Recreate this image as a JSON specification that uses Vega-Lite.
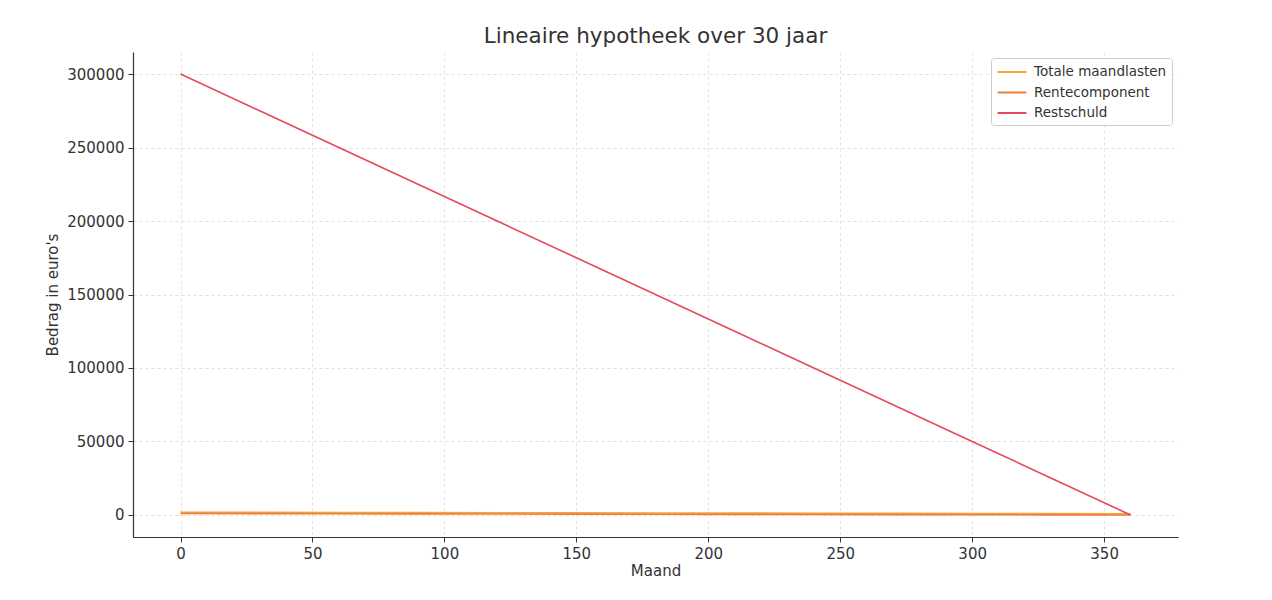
{
  "$schema": "https://vega.github.io/schema/vega-lite/v6.json",
  "autosize": {"type": "none"},
  "padding": {"left": 133, "top": 52, "right": 94, "bottom": 63},
  "width": 1045,
  "height": 485,
  "background": "white",
  "config": {
    "font": "DejaVu Sans",
    "view": {"stroke": null},
    "axis": {
      "labelFont": "DejaVu Sans",
      "titleFont": "DejaVu Sans",
      "labelFontSize": 15,
      "titleFontSize": 15,
      "titleFontWeight": "normal",
      "labelColor": "#333333",
      "titleColor": "#333333",
      "domainColor": "#333333",
      "domainWidth": 1.2,
      "tickColor": "#333333",
      "tickSize": 5,
      "gridColor": "#d9d9d9",
      "gridDash": [3, 3],
      "gridWidth": 0.8
    }
  },
  "title": {
    "text": "Lineaire hypotheek over 30 jaar",
    "fontSize": 21.5,
    "fontWeight": "normal",
    "color": "#333333",
    "font": "DejaVu Sans",
    "offset": 5
  },
  "data": {
    "values": [
      {"maand": 0, "serie": "Totale maandlasten", "bedrag": 1833},
      {"maand": 30, "serie": "Totale maandlasten", "bedrag": 1750},
      {"maand": 60, "serie": "Totale maandlasten", "bedrag": 1667},
      {"maand": 90, "serie": "Totale maandlasten", "bedrag": 1583},
      {"maand": 120, "serie": "Totale maandlasten", "bedrag": 1500},
      {"maand": 150, "serie": "Totale maandlasten", "bedrag": 1417},
      {"maand": 180, "serie": "Totale maandlasten", "bedrag": 1333},
      {"maand": 210, "serie": "Totale maandlasten", "bedrag": 1250},
      {"maand": 240, "serie": "Totale maandlasten", "bedrag": 1167},
      {"maand": 270, "serie": "Totale maandlasten", "bedrag": 1083},
      {"maand": 300, "serie": "Totale maandlasten", "bedrag": 1000},
      {"maand": 330, "serie": "Totale maandlasten", "bedrag": 917},
      {"maand": 360, "serie": "Totale maandlasten", "bedrag": 833},
      {"maand": 0, "serie": "Rentecomponent", "bedrag": 1000},
      {"maand": 30, "serie": "Rentecomponent", "bedrag": 917},
      {"maand": 60, "serie": "Rentecomponent", "bedrag": 833},
      {"maand": 90, "serie": "Rentecomponent", "bedrag": 750},
      {"maand": 120, "serie": "Rentecomponent", "bedrag": 667},
      {"maand": 150, "serie": "Rentecomponent", "bedrag": 583},
      {"maand": 180, "serie": "Rentecomponent", "bedrag": 500},
      {"maand": 210, "serie": "Rentecomponent", "bedrag": 417},
      {"maand": 240, "serie": "Rentecomponent", "bedrag": 333},
      {"maand": 270, "serie": "Rentecomponent", "bedrag": 250},
      {"maand": 300, "serie": "Rentecomponent", "bedrag": 167},
      {"maand": 330, "serie": "Rentecomponent", "bedrag": 83},
      {"maand": 360, "serie": "Rentecomponent", "bedrag": 0},
      {"maand": 0, "serie": "Restschuld", "bedrag": 300000},
      {"maand": 30, "serie": "Restschuld", "bedrag": 275000},
      {"maand": 60, "serie": "Restschuld", "bedrag": 250000},
      {"maand": 90, "serie": "Restschuld", "bedrag": 225000},
      {"maand": 120, "serie": "Restschuld", "bedrag": 200000},
      {"maand": 150, "serie": "Restschuld", "bedrag": 175000},
      {"maand": 180, "serie": "Restschuld", "bedrag": 150000},
      {"maand": 210, "serie": "Restschuld", "bedrag": 125000},
      {"maand": 240, "serie": "Restschuld", "bedrag": 100000},
      {"maand": 270, "serie": "Restschuld", "bedrag": 75000},
      {"maand": 300, "serie": "Restschuld", "bedrag": 50000},
      {"maand": 330, "serie": "Restschuld", "bedrag": 25000},
      {"maand": 360, "serie": "Restschuld", "bedrag": 0}
    ]
  },
  "mark": {"type": "line", "strokeWidth": 1.6, "clip": true},
  "encoding": {
    "x": {
      "field": "maand",
      "type": "quantitative",
      "title": "Maand",
      "scale": {"domain": [-18, 378], "nice": false, "zero": false},
      "axis": {"values": [0, 50, 100, 150, 200, 250, 300, 350], "titlePadding": 2, "labelPadding": 4}
    },
    "y": {
      "field": "bedrag",
      "type": "quantitative",
      "title": "Bedrag in euro's",
      "scale": {"domain": [-15000, 315000], "nice": false, "zero": false},
      "axis": {"values": [0, 50000, 100000, 150000, 200000, 250000, 300000], "format": "d", "titlePadding": 6, "labelPadding": 4}
    },
    "color": {
      "field": "serie",
      "type": "nominal",
      "sort": ["Totale maandlasten", "Rentecomponent", "Restschuld"],
      "scale": {
        "domain": ["Totale maandlasten", "Rentecomponent", "Restschuld"],
        "range": ["#f7a534", "#ee7c3a", "#e5495c"]
      },
      "legend": {
        "title": null,
        "orient": "top-right",
        "offset": 6,
        "fillColor": "white",
        "strokeColor": "#cccccc",
        "cornerRadius": 3,
        "padding": 5,
        "labelFontSize": 13.5,
        "labelColor": "#333333",
        "labelFont": "DejaVu Sans",
        "symbolType": "M-1.8,0H1.8",
        "symbolSize": 256,
        "symbolStrokeWidth": 2,
        "symbolOffset": 7,
        "rowPadding": 4.5,
        "labelOffset": 13
      }
    }
  }
}
